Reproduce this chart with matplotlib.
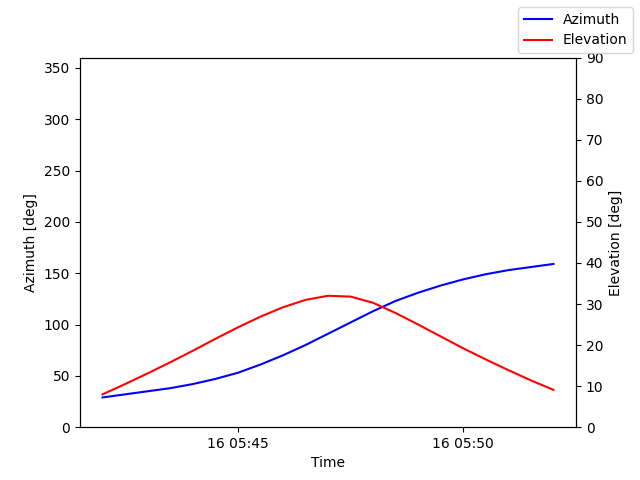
import matplotlib
matplotlib.use("Agg")
import matplotlib.pyplot as plt
import matplotlib.dates as mdates
import numpy as np
import pandas as pd

times = pd.date_range("2024-01-16 05:42:00", "2024-01-16 05:52:00", freq="30s")
azimuth = [29, 32, 35, 38, 42, 47, 53, 61, 70, 80, 91, 102, 113, 123, 131, 138, 144, 149, 153, 156, 159]
elevation = [8.0, 10.5, 13.1, 15.8, 18.6, 21.5, 24.3, 26.9, 29.2, 31.0, 32.0, 31.8, 30.3, 27.8, 25.0, 22.1, 19.2, 16.5, 13.9, 11.4, 9.1]

fig, ax = plt.subplots(figsize=(6.4, 4.8), dpi=100)
ax2 = ax.twinx()
ax.plot(times, azimuth, color="blue", label="Azimuth")
ax2.plot(times, elevation, color="red", label="Elevation")
ax.set_ylim(0, 360)
ax2.set_ylim(0, 90)
ax.set_xlabel("Time")
ax.set_ylabel("Azimuth [deg]")
ax2.set_ylabel("Elevation [deg]")
ax.xaxis.set_major_locator(mdates.MinuteLocator(byminute=[45, 50]))
ax.xaxis.set_major_formatter(mdates.DateFormatter("%d %H:%M"))
fig.legend(loc="upper right")
fig.subplots_adjust(left=0.125, right=0.9, top=0.88, bottom=0.11)
fig.savefig("out.png")
